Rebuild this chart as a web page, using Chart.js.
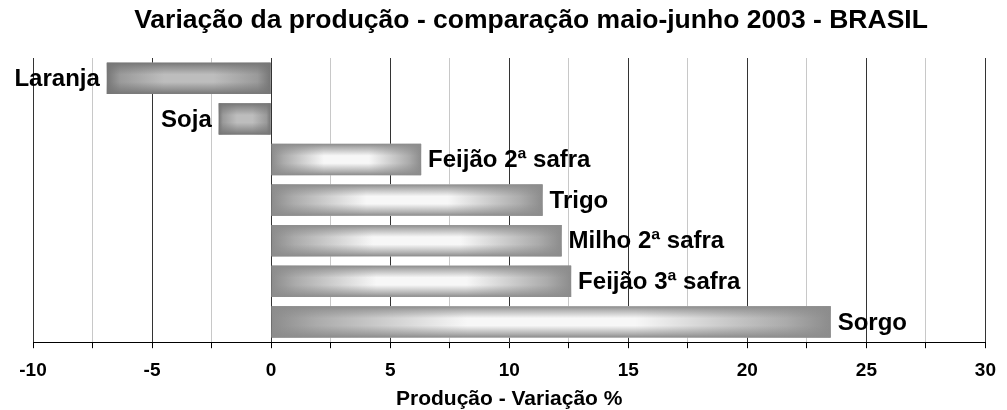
<!DOCTYPE html>
<html>
<head>
<meta charset="utf-8">
<script src="https://cdn.jsdelivr.net/npm/chart.js@4/dist/chart.umd.min.js"></script>
<style>
  html, body { margin: 0; padding: 0; background: #fff; }
</style>
</head>
<body>
<canvas id="meuGrafico" width="1007" height="410"></canvas>
<script>
// Culturas (categorias do eixo Y)
const culturas = ['Laranja', 'Soja', 'Feijão 2ª safra', 'Trigo', 'Milho 2ª safra', 'Feijão 3ª safra', 'Sorgo'];
// Variação da produção em % (maio -> junho 2003)
const variacao = [-6.9, -2.2, 6.3, 11.4, 12.2, 12.6, 23.5];
// Rótulos que aparecem no eixo X
const rotulosX = [-10, -5, 0, 5, 10, 15, 20, 25, 30];

const titulo = 'Variação da produção - comparação maio-junho 2003 - BRASIL';
const fonte = '"Liberation Sans", Arial, sans-serif';

// Plugin: pinta as barras com degradê e escreve o nome ao lado
const barrasDegrade = {
    id: 'barrasDegrade',
    afterDatasetsDraw(chart) {
        const ctx = chart.ctx;
        const meta = chart.getDatasetMeta(0);
        meta.data.forEach((barra, i) => {
            const p = barra.getProps(['x', 'y', 'base', 'height'], true);
            const esq = Math.min(p.x, p.base);
            const dir = Math.max(p.x, p.base);
            const topo = p.y - p.height / 2;
            const larg = dir - esq;
            const alt = p.height;
            const negativo = variacao[i] < 0;

            // cores: barras negativas são mais escuras
            const borda = negativo ? '#767676' : '#8c8c8c';
            const meio = negativo ? '#9a9a9a' : '#ababab';
            const centro = negativo ? '#bdbdbd' : '#f7f7f7';

            ctx.save();
            // degradê horizontal (pontas escuras, centro claro)
            const gh = ctx.createLinearGradient(esq, 0, dir, 0);
            gh.addColorStop(0, borda);
            gh.addColorStop(0.08, meio);
            gh.addColorStop(0.35, centro);
            gh.addColorStop(0.65, centro);
            gh.addColorStop(0.92, meio);
            gh.addColorStop(1, borda);
            ctx.fillStyle = gh;
            ctx.fillRect(esq, topo, larg, alt);

            // sombra vertical (bordas de cima e de baixo escuras)
            const c = negativo ? '118,118,118' : '140,140,140';
            const gv = ctx.createLinearGradient(0, topo, 0, topo + alt);
            gv.addColorStop(0, `rgba(${c},1)`);
            gv.addColorStop(0.12, `rgba(${c},0.65)`);
            gv.addColorStop(0.38, `rgba(${c},0)`);
            gv.addColorStop(0.62, `rgba(${c},0)`);
            gv.addColorStop(0.88, `rgba(${c},0.65)`);
            gv.addColorStop(1, `rgba(${c},1)`);
            ctx.fillStyle = gv;
            ctx.fillRect(esq, topo, larg, alt);

            // nome da cultura
            ctx.fillStyle = '#000';
            ctx.font = 'bold 24px ' + fonte;
            ctx.textBaseline = 'middle';
            if (negativo) {
                ctx.textAlign = 'right';
                ctx.fillText(culturas[i], esq - 7, p.y + 1);
            } else {
                ctx.textAlign = 'left';
                ctx.fillText(culturas[i], dir + 7, p.y + 1);
            }
            ctx.restore();
        });
    },
    // título um pouco deslocado para a direita, como no original
    afterDraw(chart) {
        const ctx = chart.ctx;
        ctx.save();
        ctx.fillStyle = '#000';
        ctx.font = 'bold 26.5px ' + fonte;
        ctx.textAlign = 'center';
        ctx.textBaseline = 'middle';
        ctx.fillText(titulo, 531, 21);
        ctx.restore();
    }
};

const ctx = document.getElementById('meuGrafico').getContext('2d');

new Chart(ctx, {
    type: 'bar',
    data: {
        labels: culturas,
        datasets: [{
            label: 'Variação %',
            data: variacao,
            backgroundColor: '#999999',
            borderWidth: 0,
            barPercentage: 0.77,
            categoryPercentage: 1.0
        }]
    },
    options: {
        indexAxis: 'y',
        responsive: false,
        animation: false,
        layout: {
            padding: { left: 33, right: 14, top: 58, bottom: 0 }
        },
        plugins: {
            legend: { display: false },
            tooltip: { enabled: false },
            title: { display: false }
        },
        scales: {
            x: {
                type: 'linear',
                min: -10,
                max: 30,
                border: { display: true, color: '#000', width: 1 },
                grid: {
                    color: (c) => (c.tick && rotulosX.includes(c.tick.value)) ? '#333333' : '#c8c8c8',
                    tickColor: '#000',
                    tickLength: 6,
                    lineWidth: 1
                },
                ticks: {
                    stepSize: 2.5,
                    autoSkip: false,
                    maxRotation: 0,
                    padding: 11,
                    color: '#000',
                    font: { family: fonte, size: 19, weight: 'bold', lineHeight: 1.2 },
                    callback: (v) => rotulosX.includes(v) ? v : ''
                },
                title: {
                    display: true,
                    text: 'Produção - Variação %',
                    color: '#000',
                    font: { family: fonte, size: 21, weight: 'bold', lineHeight: 1 },
                    padding: { top: -4, bottom: 0 }
                }
            },
            y: {
                display: false
            }
        }
    },
    plugins: [barrasDegrade]
});
</script>
</body>
</html>
